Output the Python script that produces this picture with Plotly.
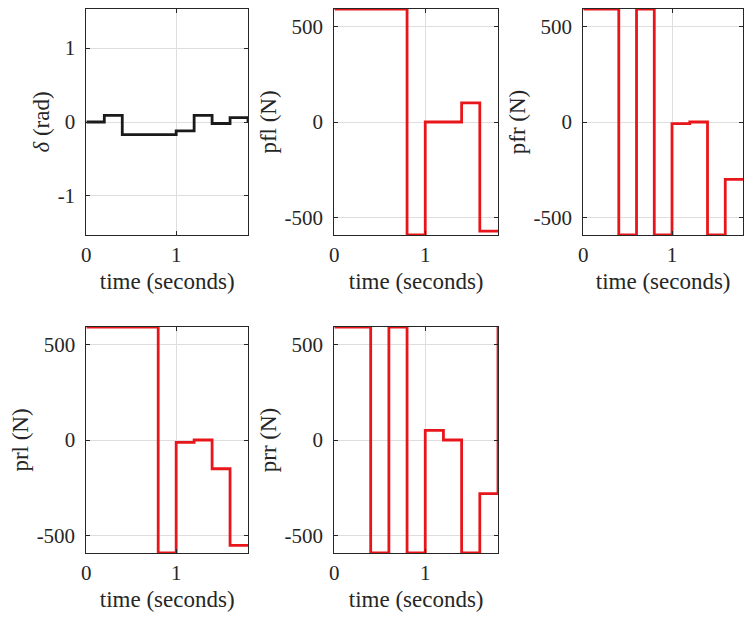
import plotly.graph_objects as go

t = [0.0, 0.2, 0.4, 0.6, 0.8, 1.0, 1.2, 1.4, 1.6, 1.8]
delta = [0.0, 0.09, -0.17, -0.17, -0.17, -0.12, 0.09, -0.02, 0.06, 0.0]
pfl = [590, 590, 590, 590, -590, 0, 0, 100, -570, -570]
pfr = [590, 590, -590, 590, -590, -8, 0, -590, -300, -300]
prl = [590, 590, 590, 590, -590, -12, 0, -150, -550, -550]
prr = [590, 590, -590, 590, -590, 50, 0, -590, -280, 590]

panels = [
    ("<i>δ</i> (rad)", delta, "#1a1a1a", [-1, 0, 1], ["-1", "0", "1"], [-1.53, 1.53]),
    ("pfl (N)", pfl, "#e8161b", [-500, 0, 500], ["-500", "0", "500"], [-590, 590]),
    ("pfr (N)", pfr, "#e8161b", [-500, 0, 500], ["-500", "0", "500"], [-590, 590]),
    ("prl (N)", prl, "#e8161b", [-500, 0, 500], ["-500", "0", "500"], [-590, 590]),
    ("prr (N)", prr, "#e8161b", [-500, 0, 500], ["-500", "0", "500"], [-590, 590]),
]
xticks = [0, 1]
xlabels = ["0", "1"]

W, H = 744, 618
xdoms = [[82 / W, 245 / W], [332 / W, 497 / W], [583 / W, 1.0]]
ydoms = [[1 - 235 / H, 1 - 9 / H], [1 - 553 / H, 1 - 327 / H]]

font = dict(family="Liberation Serif, Times New Roman, serif", size=21, color="#262626")

fig = go.Figure()
layout = dict(
    width=W, height=H, margin=dict(l=0, r=0, t=0, b=0),
    paper_bgcolor="white", plot_bgcolor="white", showlegend=False, font=font,
)
for i, (ylab, vals, col, yt, ytl, yr) in enumerate(panels):
    r, c = divmod(i, 3)
    n = "" if i == 0 else str(i + 1)
    fig.add_trace(go.Scatter(
        x=t, y=vals, mode="lines", line=dict(shape="hv", color=col, width=2.8),
        xaxis="x" + n, yaxis="y" + n, hoverinfo="skip"))
    common = dict(
        showline=True, linecolor="#262626", linewidth=1, mirror="ticks",
        ticks="inside", ticklen=4, tickcolor="#262626",
        showgrid=True, gridcolor="#dedede", gridwidth=1, zeroline=False,
        tickfont=dict(size=21), fixedrange=True,
    )
    layout["xaxis" + n] = dict(
        common, domain=xdoms[c], anchor="y" + n, range=[0, 1.8],
        tickvals=xticks, ticktext=xlabels, ticklabelstandoff=1,
        title=dict(text="time (seconds)", font=dict(size=23), standoff=6),
    )
    layout["yaxis" + n] = dict(
        common, domain=ydoms[r], anchor="x" + n, range=yr,
        tickvals=yt, ticktext=ytl, ticklabelstandoff=6,
        title=dict(text=ylab, font=dict(size=23), standoff=1),
    )
fig.update_layout(**layout)
fig.write_html("out.html")
